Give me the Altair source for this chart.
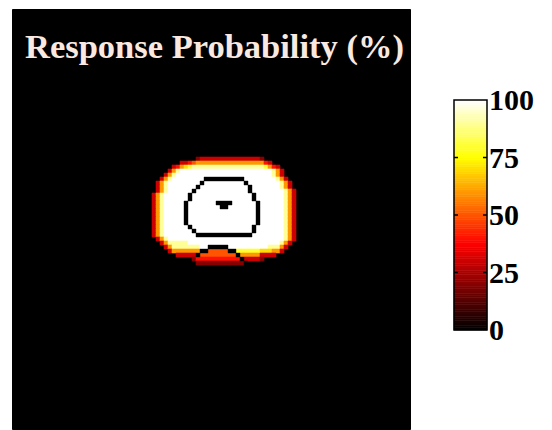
import altair as alt
import pandas as pd

TITLE = "Response Probability (%)"
CBAR_TICKS = [0, 25, 50, 75, 100]
CBAR_LABELS = ["0", "25", "50", "75", "100"]
CBAR_INNER_TICKS = [25, 50, 75]
HOT_STOPS = [0, 37.5, 75, 100]
HOT_COLORS = ["#000000", "#ff0000", "#ffff00", "#ffffff"]

# response-probability map, one character per grid cell
# '2'..'9' = 20..90 %, 'W' = 100 %, '#' = contour line, missing = 0 %
FIRST_ROW = 37
ROW_START = [46, 42, 40, 39, 38, 37, 36, 36, 36,
             35, 35, 35, 35, 35, 35, 35, 35, 35, 35, 35,
             36, 37, 38, 39, 41, 45, 46]
ROW_CELLS = [
    "23333333333333332",
    "33456666666666666666643",
    "346789999999999999999998643",
    "369WWWWWWWWWWWWWWWWWWWWWWW963",
    "369WWWWWWWWWWWWWWWWWWWWWWWW963",
    "369WWWWWWWW##########WWWWWWWW963",
    "369WWWWWWWW#WWWWWWWWWW#WWWWWWWW963",
    "369WWWWWWW#WWWWWWWWWWWW#WWWWWWW963",
    "369WWWWWW#WWWWWWWWWWWWW#WWWWWWWW963",
    "369WWWWWW#WWWWWWWWWWWWWWW#WWWWWWW963",
    "369WWWWWW#WWWWWWWWWWWWWWW#WWWWWWW963",
    "369WWWWW#WWWWWWW####WWWWWW#WWWWWW963",
    "369WWWWW#WWWWWWWW##WWWWWWW#WWWWWW963",
    "369WWWWW#WWWWWWWWWWWWWWWWW#WWWWWW963",
    "369WWWWW#WWWWWWWWWWWWWWWWW#WWWWWW963",
    "369WWWWW#WWWWWWWWWWWWWWWWW#WWWWWW963",
    "369WWWWW#WWWWWWWWWWWWWWWWW#WWWWWW963",
    "369WWWWWW#WWWWWWWWWWWWWWW#WWWWWWW963",
    "369WWWWWWW#WWWWWWWWWWWWWW#WWWWWWW963",
    "369WWWWWWWW##############WWWWWWWW963",
    "369WWWWWWWWWWWWWWWWWWWWWWWWWWWWW963",
    "3699999WWWWWWWWWWWWWWWWWWWWWWW963",
    "369999999WW#####WWWWWWWWWW99963",
    "36666666##55555##888888777663",
    "33333#555555555#666663333",
    "244444444444#33332",
    "222222222222#",
]
LEVEL = {"1": 10, "2": 20, "3": 30, "4": 40, "5": 50, "6": 60,
         "7": 70, "8": 80, "9": 90, "W": 100}

heat, contour = [], []
for k, (c0, s) in enumerate(zip(ROW_START, ROW_CELLS)):
    r = FIRST_ROW + k
    for j, ch in enumerate(s):
        c = c0 + j
        if ch == "#":
            contour.append({"col": c, "col2": c + 1, "row": r, "row2": r + 1})
        elif ch in LEVEL:
            heat.append({"col": c, "col2": c + 1, "row": r, "row2": r + 1, "p": LEVEL[ch]})
heat_df = pd.DataFrame(heat)
contour_df = pd.DataFrame(contour)

xs = alt.Scale(domain=[0, 99.5], nice=False, zero=False)
ys = alt.Scale(domain=[0, 105], reverse=True, nice=False, zero=False)
hot = alt.Scale(domain=HOT_STOPS, range=HOT_COLORS, interpolate="rgb")

heat_layer = alt.Chart(heat_df).mark_rect(strokeWidth=0.6).encode(
    x=alt.X("col:Q", scale=xs, axis=None),
    x2="col2:Q",
    y=alt.Y("row:Q", scale=ys, axis=None),
    y2="row2:Q",
    fill=alt.Fill("p:Q", scale=hot, legend=None),
    stroke=alt.Stroke("p:Q", scale=hot, legend=None),
)
contour_layer = alt.Chart(contour_df).mark_rect(
    fill="black", stroke="black", strokeWidth=0.4
).encode(
    x=alt.X("col:Q", scale=xs, axis=None),
    x2="col2:Q",
    y=alt.Y("row:Q", scale=ys, axis=None),
    y2="row2:Q",
)
title_layer = alt.Chart(pd.DataFrame({"t": [TITLE]})).mark_text(
    align="left", baseline="alphabetic", font="Liberation Serif",
    fontWeight="bold", fontSize=34.5, color="#f9e9e1"
).encode(x=alt.value(13), y=alt.value(49), text="t:N")

main = alt.layer(heat_layer, contour_layer, title_layer).properties(
    width=398, height=420,
    view=alt.ViewBackground(fill="black", stroke="black", strokeWidth=1),
)

# colour bar
cb_df = pd.DataFrame({"v": list(range(100))})
cb_df["v2"] = cb_df["v"] + 1
cb_df["mid"] = cb_df["v"] + 0.5
cb_y = alt.Scale(domain=[-43.04, 139.57], nice=False, zero=False)

bars = alt.Chart(cb_df).mark_rect(strokeWidth=0.6).encode(
    x=alt.value(0), x2=alt.value(33),
    y=alt.Y("v:Q", scale=cb_y, axis=None),
    y2="v2:Q",
    fill=alt.Fill("mid:Q", scale=hot, legend=None),
    stroke=alt.Stroke("mid:Q", scale=hot, legend=None),
)
frame = alt.Chart(pd.DataFrame({"lo": [0], "hi": [100]})).mark_rect(
    fillOpacity=0, stroke="black", strokeWidth=1.5
).encode(x=alt.value(0), x2=alt.value(33),
         y=alt.Y("lo:Q", scale=cb_y, axis=None), y2="hi:Q")
tick_df = pd.DataFrame({"t": CBAR_INNER_TICKS})
ticks_l = alt.Chart(tick_df).mark_rule(color="black", strokeWidth=1.5).encode(
    y=alt.Y("t:Q", scale=cb_y, axis=None), x=alt.value(0), x2=alt.value(4))
ticks_r = alt.Chart(tick_df).mark_rule(color="black", strokeWidth=1.5).encode(
    y=alt.Y("t:Q", scale=cb_y, axis=None), x=alt.value(29), x2=alt.value(33))
labels = alt.Chart(pd.DataFrame({"t": CBAR_TICKS, "lab": CBAR_LABELS})).mark_text(
    align="left", baseline="middle", font="Liberation Serif", fontWeight="bold",
    fontSize=30, color="black", dy=1
).encode(y=alt.Y("t:Q", scale=cb_y, axis=None), x=alt.value(35), text="lab:N")

cbar = alt.layer(bars, frame, ticks_l, ticks_r, labels).properties(width=33, height=420)

chart = alt.hconcat(main, cbar, spacing=41).properties(
    padding={"left": 3, "top": 0, "right": 0, "bottom": 0},
    background="white",
).configure_view(stroke="transparent")

chart.save("out.html", embed_options={"renderer": "svg", "actions": False})
